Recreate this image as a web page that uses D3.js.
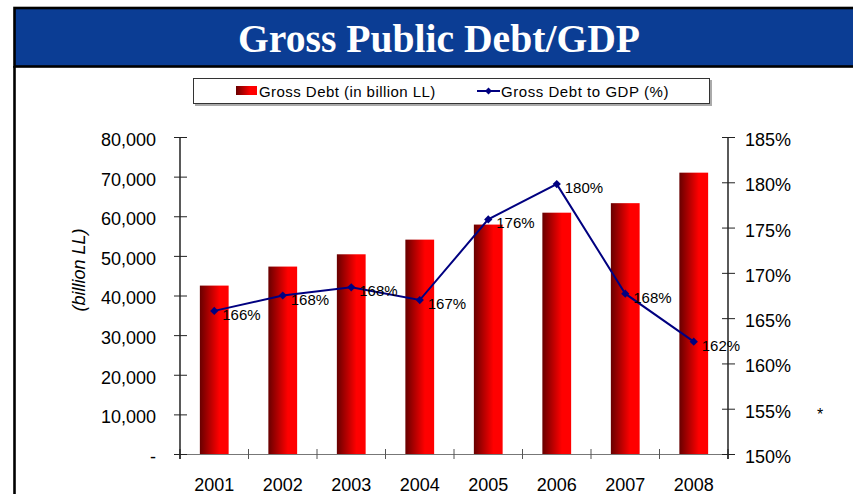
<!DOCTYPE html>
<html>
<head>
<meta charset="utf-8">
<script src="https://cdn.jsdelivr.net/npm/d3@7/dist/d3.min.js"></script>
<style>
  html, body { margin: 0; padding: 0; background: #fff; }
  svg { display: block; }
  text { font-family: Arial, "Liberation Sans", sans-serif; fill: #000; }
</style>
</head>
<body>
<svg id="chart" width="853" height="494"></svg>
<script>
// Gross public debt (billion LL) and debt-to-GDP ratio (%), 2001-2008
const years = ["2001", "2002", "2003", "2004", "2005", "2006", "2007", "2008"];
const grossDebt = [42500, 47300, 50400, 54100, 57900, 60900, 63300, 71000];
const debtToGdp = [165.8, 167.5, 168.4, 167.0, 175.9, 179.8, 167.7, 162.4];
const leftTicks = [0, 10000, 20000, 30000, 40000, 50000, 60000, 70000, 80000];
const rightTicks = [150, 155, 160, 165, 170, 175, 180, 185];
const titleText = "Gross Public Debt/GDP";
const legendLabels = ["Gross Debt (in billion LL)", "Gross Debt to GDP (%)"];
const yAxisTitle = "(billion LL)";

const svg = d3.select("#chart");
const W = 853, H = 494;

const plot = { left: 180, right: 728, top: 137, bottom: 454 };

// Bar gradient: dark maroon on the left fading to bright red
const defs = svg.append("defs");
const grad = defs.append("linearGradient").attr("id", "barGrad")
  .attr("x1", "0%").attr("x2", "100%").attr("y1", "0%").attr("y2", "0%");
grad.append("stop").attr("offset", "0%").attr("stop-color", "#680000");
grad.append("stop").attr("offset", "68%").attr("stop-color", "#ff0000");
grad.append("stop").attr("offset", "100%").attr("stop-color", "#ff0000");

// Title banner
svg.append("rect")
  .attr("x", 14.5).attr("y", 8).attr("width", W + 10).attr("height", 58.5)
  .attr("fill", "#0b3d94").attr("stroke", "#000").attr("stroke-width", 2.6);
svg.append("line")
  .attr("x1", 14.5).attr("x2", 14.5).attr("y1", 66).attr("y2", H)
  .attr("stroke", "#000").attr("stroke-width", 2.6);
svg.append("text")
  .attr("x", 439).attr("y", 52)
  .attr("text-anchor", "middle")
  .attr("textLength", 402).attr("lengthAdjust", "spacingAndGlyphs")
  .style("font-family", "'Liberation Serif', 'DejaVu Serif', serif")
  .style("font-weight", "bold")
  .style("font-size", "40px")
  .style("fill", "#fff")
  .text(titleText);

// Scales
const xCat = d3.scaleBand().domain(years).range([plot.left, plot.right]);
const xBar = d3.scaleBand().domain(years).range([plot.left, plot.right])
  .paddingInner(0.58).paddingOuter(0.29);
const yL = d3.scaleLinear().domain([0, 80000]).range([plot.bottom, plot.top]);
const yR = d3.scaleLinear().domain([150, 185]).range([plot.bottom, plot.top]);

// Bars
svg.append("g").selectAll("rect")
  .data(years.map((y, i) => ({ year: y, v: grossDebt[i] })))
  .join("rect")
  .attr("x", d => xBar(d.year))
  .attr("width", xBar.bandwidth())
  .attr("y", d => yL(d.v))
  .attr("height", d => yL(0) - yL(d.v))
  .attr("fill", "url(#barGrad)");

// X axis (category boundaries as tick marks)
const xAxis = d3.axisBottom(xCat).tickSize(0).tickPadding(24);
const gx = svg.append("g").attr("transform", `translate(0,${plot.bottom})`).call(xAxis);
gx.select(".domain").attr("stroke", "#777").attr("stroke-width", 1.2);
gx.selectAll(".tick text").style("font-size", "18px");
const bounds = years.map(y => xCat(y)).concat([plot.right]);
svg.append("g").selectAll("line").data(bounds).join("line")
  .attr("x1", d => d).attr("x2", d => d)
  .attr("y1", plot.bottom - 5).attr("y2", plot.bottom + 5)
  .attr("stroke", "#555").attr("stroke-width", 1);

// Left axis
const leftAxis = d3.axisLeft(yL).tickValues(leftTicks).tickSize(0).tickPadding(24)
  .tickFormat(d => d === 0 ? "-" : d3.format(",")(d));
const gl = svg.append("g").attr("transform", `translate(${plot.left},0)`).call(leftAxis);
gl.select(".domain").attr("stroke", "#000").attr("stroke-width", 1.3)
  .attr("d", `M0,${plot.top}V${plot.bottom + 5}`);
gl.selectAll(".tick").append("line")
  .attr("x1", -6).attr("x2", 7).attr("stroke", "#222").attr("stroke-width", 1);
gl.selectAll(".tick text").style("font-size", "18px").attr("dy", "0.47em");

// Right axis
const rightAxis = d3.axisRight(yR).tickValues(rightTicks).tickSize(0).tickPadding(17)
  .tickFormat(d => d + "%");
const gr = svg.append("g").attr("transform", `translate(${plot.right},0)`).call(rightAxis);
gr.select(".domain").attr("stroke", "#000").attr("stroke-width", 1.3)
  .attr("d", `M0,${plot.top}V${plot.bottom + 5}`);
gr.selectAll(".tick").append("line")
  .attr("x1", -6).attr("x2", 7).attr("stroke", "#222").attr("stroke-width", 1);
gr.selectAll(".tick text").style("font-size", "18px").attr("dy", "0.47em");

// Left axis title
svg.append("text")
  .attr("transform", "translate(85,270) rotate(-90)")
  .attr("text-anchor", "middle")
  .style("font-size", "18px").style("font-style", "italic")
  .text(yAxisTitle);

// Ratio line with diamond markers and value labels
const pts = years.map((y, i) => ({ year: y, v: debtToGdp[i] }));
const cx = d => xCat(d.year) + xCat.bandwidth() / 2;
svg.append("path")
  .datum(pts)
  .attr("fill", "none").attr("stroke", "#000080").attr("stroke-width", 2)
  .attr("d", d3.line().x(cx).y(d => yR(d.v)));
const diamond = d3.symbol(d3.symbolSquare, 34);
svg.append("g").selectAll("path").data(pts).join("path")
  .attr("d", diamond)
  .attr("transform", d => `translate(${cx(d)},${yR(d.v)}) rotate(45)`)
  .attr("fill", "#000080");
svg.append("g").selectAll("text").data(pts).join("text")
  .attr("x", d => cx(d) + 8)
  .attr("y", d => yR(d.v) + 9)
  .style("font-size", "15px")
  .text(d => Math.round(d.v) + "%");

// Footnote marker
svg.append("text").attr("x", 817).attr("y", 420)
  .style("font-size", "16px").text("*");

// Legend
const lg = svg.append("g");
lg.append("rect").attr("x", 195).attr("y", 80).attr("width", 517).attr("height", 26)
  .attr("fill", "#aaa");
lg.append("rect").attr("x", 193.5).attr("y", 78.5).attr("width", 516).attr("height", 25)
  .attr("fill", "#fff").attr("stroke", "#333").attr("stroke-width", 1);
lg.append("rect").attr("x", 236).attr("y", 86).attr("width", 21).attr("height", 9)
  .attr("fill", "url(#barGrad)");
lg.append("text").attr("x", 259).attr("y", 97).style("font-size", "15px")
  .style("letter-spacing", "0.45px")
  .text(legendLabels[0]);
lg.append("line").attr("x1", 477).attr("x2", 500).attr("y1", 91).attr("y2", 91)
  .attr("stroke", "#000080").attr("stroke-width", 2);
lg.append("path").attr("d", d3.symbol(d3.symbolSquare, 24))
  .attr("transform", "translate(488.5,91) rotate(45)").attr("fill", "#000080");
lg.append("text").attr("x", 501).attr("y", 97).style("font-size", "15px")
  .style("letter-spacing", "0.55px")
  .text(legendLabels[1]);
</script>
</body>
</html>
